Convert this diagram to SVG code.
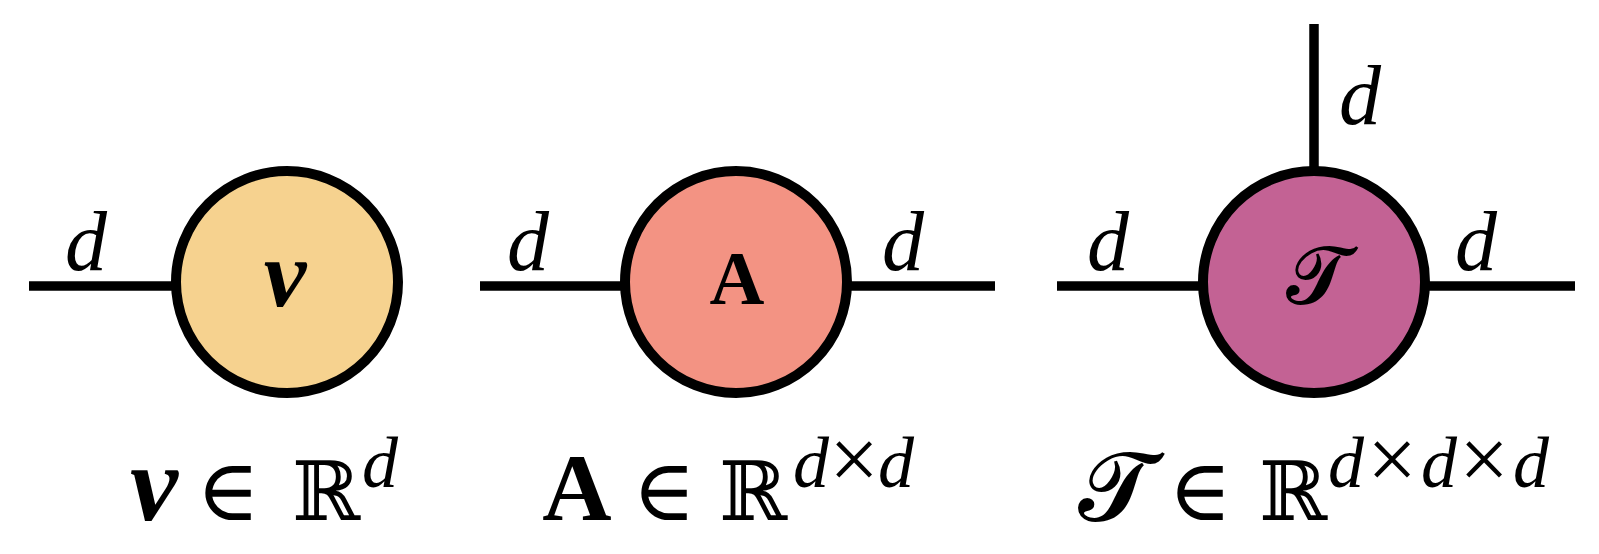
<svg xmlns="http://www.w3.org/2000/svg" width="1599" height="554" viewBox="0 0 1599 554">
<style>
.edge{stroke:#000;stroke-width:9.5;fill:none;stroke-linecap:butt}
.node{stroke:#000;stroke-width:10}
.lbl{font-family:"Liberation Serif","DejaVu Serif",serif;font-style:italic;font-size:84px;fill:#000;text-anchor:middle}
.in{font-family:"Liberation Serif","DejaVu Serif",serif;fill:#000;text-anchor:middle}
.f{font-family:"Liberation Serif","DejaVu Serif",serif;fill:#000;text-anchor:middle}
.b{font-size:96px}
.bv{font-size:108px;font-weight:bold;font-style:italic}
.el{font-family:"DejaVu Serif",serif;font-size:86px}
.ds{font-family:"DejaVu Serif",serif;font-size:82px}
.sup{font-style:italic;font-size:72px}
.x{font-size:88px}
</style>
<rect width="1599" height="554" fill="#fff"/>
<g id="connectors">
<line class="edge" x1="29" y1="286" x2="178" y2="286"/>
<line class="edge" x1="480" y1="286" x2="627" y2="286"/>
<line class="edge" x1="845" y1="286" x2="995" y2="286"/>
<line class="edge" x1="1057" y1="286" x2="1205" y2="286"/>
<line class="edge" x1="1423" y1="286" x2="1575" y2="286"/>
<line class="edge" x1="1314" y1="24" x2="1314" y2="173"/>
<text class="lbl" x="86" y="270">d</text>
<text class="lbl" x="528" y="270">d</text>
<text class="lbl" x="903" y="270">d</text>
<text class="lbl" x="1108" y="270">d</text>
<text class="lbl" x="1476" y="270">d</text>
<text class="lbl" x="1360" y="124">d</text>
</g>
<g id="node-v">
<circle class="node" cx="287" cy="282" r="111" fill="#F6D28F"/>
<text class="in" x="285" y="306" font-size="96" font-weight="bold" font-style="italic">v</text>
</g>
<g id="node-A">
<circle class="node" cx="736" cy="282" r="111" fill="#F39383"/>
<text class="in" x="737" y="304" font-size="76" font-weight="bold">A</text>
</g>
<g id="node-T">
<circle class="node" cx="1314" cy="282" r="111" fill="#C36294"/>
<text class="in" x="1316" y="303" font-size="80">𝓣</text>
</g>
<g id="formula-v">
<text class="f" y="520"><tspan x="154" class="bv">v</tspan><tspan x="228" class="el">∈</tspan><tspan x="326" class="ds">ℝ</tspan><tspan x="380" y="487" class="sup">d</tspan></text>
</g>
<g id="formula-A">
<text class="f" y="520"><tspan x="577" class="b" font-weight="bold">A</tspan><tspan x="664" class="el">∈</tspan><tspan x="753" class="ds">ℝ</tspan><tspan x="811" y="487" class="sup">d</tspan><tspan x="854" y="489" class="x">×</tspan><tspan x="896" y="487" class="sup">d</tspan></text>
</g>
<g id="formula-T">
<text class="f" y="520"><tspan x="1115" class="b">𝓣</tspan><tspan x="1200" class="el">∈</tspan><tspan x="1293" class="ds">ℝ</tspan><tspan x="1346" y="487" class="sup">d</tspan><tspan x="1392" y="489" class="x">×</tspan><tspan x="1439" y="487" class="sup">d</tspan><tspan x="1484" y="489" class="x">×</tspan><tspan x="1531" y="487" class="sup">d</tspan></text>
</g>
</svg>
